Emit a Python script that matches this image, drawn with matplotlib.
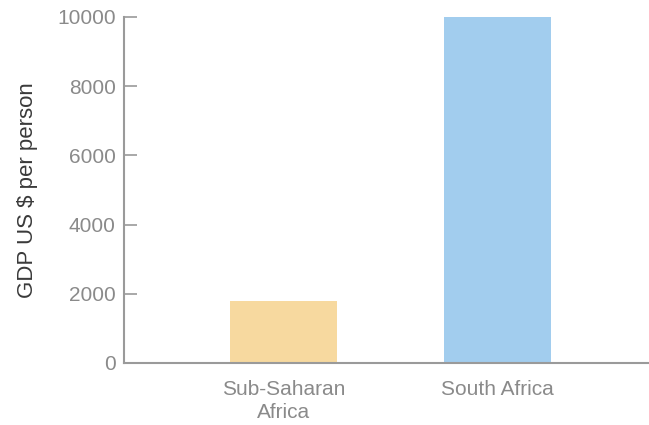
import matplotlib
matplotlib.use("Agg")
import matplotlib.pyplot as plt

# data
regions = ["Sub-Saharan\nAfrica", "South Africa"]
gdp = [1800, 10000]
colors = ["#f7d99f", "#a2cdee"]
yticks = [0, 2000, 4000, 6000, 8000, 10000]

plt.rcParams['font.family'] = ['Liberation Sans', 'DejaVu Sans']

fig = plt.figure(figsize=(6.49, 4.25), dpi=100)
ax = fig.add_axes([124/649, 62/425, 524/649, 346/425])

x = range(len(regions))
ax.bar(x, gdp, width=0.5, color=colors)

ax.set_xlim(-0.745, 1.703)
ax.set_ylim(0, 10000)
ax.set_yticks(yticks)
ax.set_xticks(list(x))
ax.set_xticklabels(regions, fontsize=15, color="#8a8a8a", linespacing=1.3)
ax.tick_params(axis="y", direction="in", length=9.5, width=1.2, color="#999999",
               labelsize=15, labelcolor="#8a8a8a", pad=6)
ax.tick_params(axis="x", length=0, pad=12)
ax.set_ylabel("GDP US $ per person", fontsize=16, color="#3a3a3a", labelpad=14)

for s in ["top", "right"]:
    ax.spines[s].set_visible(False)
for s in ["left", "bottom"]:
    ax.spines[s].set_color("#9a9a9a")
    ax.spines[s].set_linewidth(1.5)

fig.savefig("out.png", dpi=100)
